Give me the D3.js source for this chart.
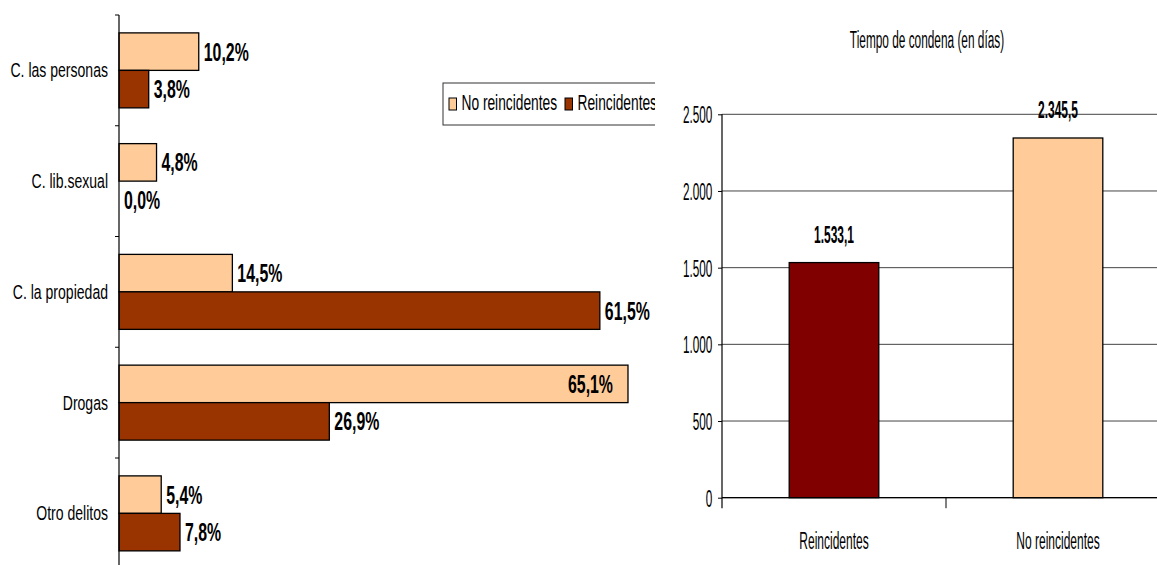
<!DOCTYPE html>
<html><head><meta charset="utf-8">
<script src="https://cdn.jsdelivr.net/npm/d3@7"></script>
<style>html,body{margin:0;padding:0;background:#fff;} svg{display:block;} text{font-family:"Liberation Sans", Arial, sans-serif;fill:#000;}</style>
</head><body><svg id="c" width="1157" height="565"></svg>
<script>
// ---------- data ----------
const categories = ["C. las personas", "C. lib.sexual", "C. la propiedad", "Drogas", "Otro delitos"];
const seriesNames = ["No reincidentes", "Reincidentes"];
const noReincidentes = [10.2, 4.8, 14.5, 65.1, 5.4];
const reincidentes = [3.8, 0.0, 61.5, 26.9, 7.8];
const timeTitle = "Tiempo de condena (en días)";
const timeGroups = ["Reincidentes", "No reincidentes"];
const timeValues = [1533.1, 2345.5];
const timeTicks = [0, 500, 1000, 1500, 2000, 2500];
const timeTickLabels = ["0", "500", "1.000", "1.500", "2.000", "2.500"];

// ---------- styles ----------
const colLeft = {"No reincidentes": "#FFCC99", "Reincidentes": "#993300"};
const colRight = {"Reincidentes": "#800000", "No reincidentes": "#FFCC99"};

const svg = d3.select("#c");
const loc = d3.formatLocale({decimal: ",", thousands: ".", grouping: [3], currency: ["", ""]});
const fmtPct = v => loc.format(".1f")(v) + "%";
const fmtDays = loc.format(",.1f");

function label(g, x, y, s, o) {
  return g.append("text")
    .attr("transform", `translate(${x},${y}) scale(${o.sx},1)`)
    .attr("text-anchor", o.anchor || "start")
    .attr("font-size", o.size)
    .attr("font-weight", o.weight || "normal")
    .text(s);
}

// ================= LEFT CHART =================
svg.append("clipPath").attr("id", "leftClip").append("rect")
  .attr("x", 0).attr("y", 0).attr("width", 655).attr("height", 565);
const L = svg.append("g").attr("clip-path", "url(#leftClip)");

const y0 = d3.scaleBand().domain(categories).range([15, 568.75]).padding(0);
const y1 = d3.scaleBand().domain(seriesNames).range([0, y0.bandwidth()])
  .paddingInner(0).paddingOuter(0.477);
const xL = d3.scaleLinear().domain([0, 70]).range([119, 666.3]);

const rows = [];
categories.forEach((c, i) => {
  rows.push({cat: c, s: "No reincidentes", v: noReincidentes[i]});
  rows.push({cat: c, s: "Reincidentes", v: reincidentes[i]});
});

L.selectAll("rect.bar").data(rows).enter().append("rect")
  .attr("class", "bar")
  .attr("x", xL(0))
  .attr("y", d => y0(d.cat) + y1(d.s))
  .attr("width", d => xL(d.v) - xL(0))
  .attr("height", y1.bandwidth())
  .attr("fill", d => colLeft[d.s])
  .attr("stroke", "#000").attr("stroke-width", 1.3);

// value labels
rows.forEach(d => {
  const cy = y0(d.cat) + y1(d.s) + y1.bandwidth() / 2 + 9;
  const end = xL(d.v);
  if (end + 5 + 46 > xL.range()[1]) {
    label(L, end - 15, cy, fmtPct(d.v), {size: 25, sx: 0.635, weight: "bold", anchor: "end"});
  } else {
    label(L, end + 5, cy, fmtPct(d.v), {size: 25, sx: 0.635, weight: "bold"});
  }
});

// axis line & ticks
L.append("line").attr("x1", xL(0)).attr("x2", xL(0))
  .attr("y1", y0.range()[0]).attr("y2", y0.range()[1])
  .attr("stroke", "#000").attr("stroke-width", 1.2);
const bounds = categories.map(c => y0(c)).concat([y0.range()[1]]);
L.selectAll("line.tk").data(bounds).enter().append("line")
  .attr("x1", xL(0) - 4).attr("x2", xL(0))
  .attr("y1", d => d).attr("y2", d => d)
  .attr("stroke", "#000").attr("stroke-width", 1);

// category labels
categories.forEach(c => {
  label(L, 108, y0(c) + y0.bandwidth() / 2 + 7, c, {size: 19.5, sx: 0.72, anchor: "end"});
});

// legend
const lg = L.append("g");
lg.append("rect").attr("x", 443).attr("y", 83).attr("width", 240).attr("height", 42)
  .attr("fill", "#fff").attr("stroke", "#333").attr("stroke-width", 1);
const legX = [449, 565];
seriesNames.forEach((s, i) => {
  lg.append("rect").attr("x", legX[i]).attr("y", 98).attr("width", 7.5).attr("height", 12)
    .attr("fill", colLeft[s]).attr("stroke", "#000").attr("stroke-width", 1);
  label(lg, legX[i] + 12.5, 110, s, {size: 21.5, sx: 0.64});
});

// ================= RIGHT CHART =================
const R = svg.append("g");
const xR = d3.scaleBand().domain(timeGroups).range([722, 1170])
  .paddingInner(0.6).paddingOuter(0.3);
const yR = d3.scaleLinear().domain([0, 2500]).range([497.7, 114.3]);

// title
label(R, 927, 48, timeTitle, {size: 24, sx: 0.494, anchor: "middle"});

// gridlines
R.selectAll("line.grid").data(timeTicks).enter().append("line")
  .attr("x1", 722).attr("x2", 1157)
  .attr("y1", d => yR(d)).attr("y2", d => yR(d))
  .attr("stroke", "#444").attr("stroke-width", 1);

// bars
R.selectAll("rect.tb").data(timeGroups).enter().append("rect")
  .attr("x", d => xR(d))
  .attr("y", (d, i) => yR(timeValues[i]))
  .attr("width", xR.bandwidth())
  .attr("height", (d, i) => yR(0) - yR(timeValues[i]))
  .attr("fill", d => colRight[d])
  .attr("stroke", "#000").attr("stroke-width", 1.3);

// value labels
timeGroups.forEach((g, i) => {
  label(R, xR(g) + xR.bandwidth() / 2, yR(timeValues[i]) - 20, fmtDays(timeValues[i]),
    {size: 24, sx: 0.5, weight: "bold", anchor: "middle"});
});

// y axis
const yAxis = d3.axisLeft(yR).tickValues(timeTicks).tickSize(4).tickFormat((d, i) => timeTickLabels[i]);
const ya = R.append("g").attr("transform", "translate(722,0)").call(yAxis);
ya.select(".domain").remove();
ya.selectAll(".tick line").attr("stroke", "#000");
ya.selectAll(".tick text").remove();
timeTicks.forEach((t, i) => {
  label(R, 712.3, yR(t) + 9, timeTickLabels[i], {size: 24, sx: 0.49, anchor: "end"});
});
R.append("line").attr("x1", 722).attr("x2", 722).attr("y1", yR(2500)).attr("y2", yR(0) + 10.5)
  .attr("stroke", "#000").attr("stroke-width", 1.2);

// x axis
R.append("line").attr("x1", 722).attr("x2", 1157).attr("y1", yR(0)).attr("y2", yR(0))
  .attr("stroke", "#000").attr("stroke-width", 1.2);
const step = xR.step();
const xb = [xR(timeGroups[0]) - xR.paddingOuter() * step + step];
R.selectAll("line.xt").data(xb).enter().append("line")
  .attr("x1", d => d).attr("x2", d => d)
  .attr("y1", yR(0)).attr("y2", yR(0) + 10.5)
  .attr("stroke", "#000").attr("stroke-width", 1);
timeGroups.forEach(g => {
  label(R, xR(g) + xR.bandwidth() / 2, yR(0) + 51, g, {size: 24, sx: 0.5, anchor: "middle"});
});
</script></body></html>
